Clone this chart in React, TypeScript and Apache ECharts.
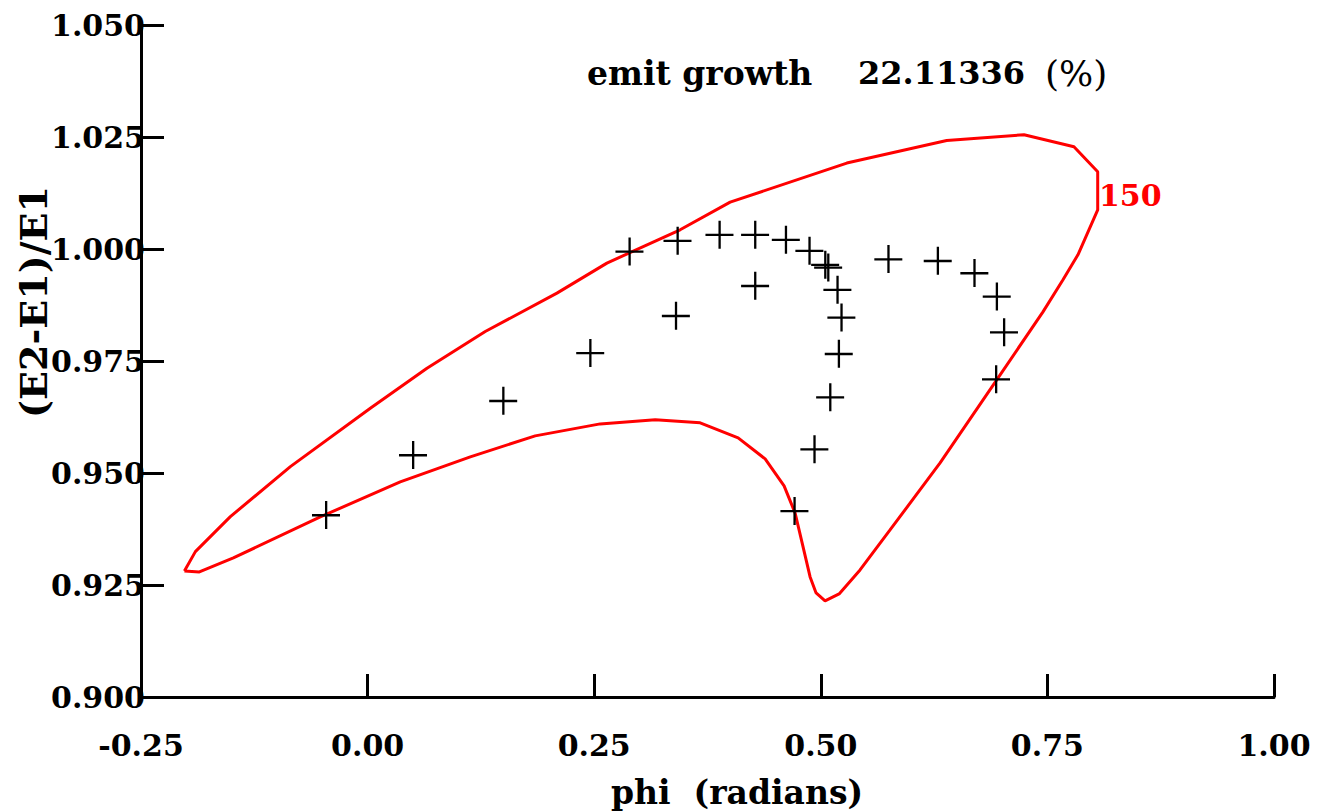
import React, { useEffect, useRef } from "react";
import * as echarts from "echarts";

const contourX = [-0.2021, -0.19, -0.1514, -0.0852, 0.003, 0.0655, 0.1298, 0.2089, 0.264, 0.3448, 0.4, 0.5287, 0.6389, 0.7242, 0.7793, 0.8055, 0.8055, 0.7837, 0.7672, 0.7451, 0.6941, 0.6316, 0.5764, 0.5433, 0.5202, 0.5047, 0.4948, 0.4882, 0.4794, 0.4716, 0.4595, 0.4386, 0.4088, 0.3669, 0.3173, 0.2566, 0.1849, 0.1133, 0.036, -0.0522, -0.1481, -0.1856, -0.2021];
const contourY = [0.92814, 0.93245, 0.94026, 0.95143, 0.96447, 0.9734, 0.98158, 0.99015, 0.99685, 1.00429, 1.01045, 1.01918, 1.02423, 1.0255, 1.02282, 1.01724, 1.00875, 0.9987, 0.99312, 0.98597, 0.97079, 0.95226, 0.93729, 0.92836, 0.923, 0.92144, 0.92322, 0.9268, 0.93439, 0.94109, 0.94712, 0.95315, 0.95784, 0.96119, 0.96186, 0.96096, 0.95829, 0.9536, 0.94801, 0.9402, 0.93104, 0.92791, 0.92814];

const particleX = [-0.0459, 0.0501, 0.1496, 0.2456, 0.2889, 0.3401, 0.3419, 0.3882, 0.4275, 0.4275, 0.4614, 0.4874, 0.5048, 0.5081, 0.5183, 0.5227, 0.5198, 0.5103, 0.4929, 0.4709, 0.5745, 0.629, 0.6694, 0.6941, 0.7021, 0.6933];
const particleY = [0.9406, 0.954, 0.9661, 0.9768, 0.99944, 0.98508, 1.00183, 1.00317, 1.00317, 0.99178, 1.00205, 0.9996, 0.9965, 0.99586, 0.99089, 0.9847, 0.9766, 0.96693, 0.95531, 0.94154, 0.99774, 0.99736, 0.99462, 0.98939, 0.98144, 0.97095];

const xTicks = { min: -0.25, max: 1.0, step: 0.25 };
const yTicks = { min: 0.9, max: 1.05, step: 0.025 };

const titleText = "emit growth";
const growthValue = "22.11336";
const growthUnit = "(%)";
const contourLabel = "150";
const xName = "phi  (radians)";
const yName = "(E2-E1)/E1";

const FONT = "DejaVu Serif";

export default function App() {
  const ref = useRef<HTMLDivElement>(null);
  useEffect(() => {
    document.body.style.margin = "0";
    const chart = echarts.init(ref.current!, null, { renderer: "svg" });
    const contour = contourX.map((x, i) => [x, contourY[i]]);
    const particles = particleX.map((x, i) => [x, particleY[i]]);
    const labelStyle = { fontFamily: FONT, fontWeight: "bold" as const, fontSize: 30, color: "#000" };
    const t = (text: string, left: number, size: number, weight: string) => ({
      type: "text",
      x: left,
      y: 73,
      style: { text, fontFamily: FONT, fontWeight: weight, fontSize: size, fill: "#000", verticalAlign: "middle" },
    });
    chart.setOption({
      animation: false,
      backgroundColor: "#fff",
      grid: { left: 141, right: 51, top: 25, bottom: 115, containLabel: false },
      xAxis: {
        type: "value",
        min: xTicks.min,
        max: xTicks.max,
        interval: xTicks.step,
        axisLine: { show: true, onZero: false, lineStyle: { color: "#000", width: 3 } },
        axisTick: { show: true, inside: true, length: 23, lineStyle: { color: "#000", width: 3 } },
        axisLabel: { ...labelStyle, margin: 33, formatter: (v: number) => v.toFixed(2) },
        splitLine: { show: false },
      },
      yAxis: {
        type: "value",
        min: yTicks.min,
        max: yTicks.max,
        interval: yTicks.step,
        axisLine: { show: true, onZero: false, lineStyle: { color: "#000", width: 3 } },
        axisTick: { show: true, inside: true, length: 23, lineStyle: { color: "#000", width: 3 } },
        axisLabel: { ...labelStyle, margin: -4, formatter: (v: number) => v.toFixed(3) },
        splitLine: { show: false },
      },
      series: [
        {
          type: "line",
          data: contour,
          showSymbol: false,
          symbol: "none",
          smooth: false,
          lineStyle: { color: "#ff0000", width: 3 },
          z: 2,
        },
        {
          type: "scatter",
          data: particles,
          symbol: "path://M13,0 L15.3,0 L15.3,13 L28,13 L28,15.3 L15.3,15.3 L15.3,28 L13,28 L13,15.3 L0,15.3 L0,13 L13,13 Z",
          symbolSize: 28,
          itemStyle: { color: "#000", opacity: 1 },
          z: 3,
        },
      ],
      graphic: [
        t(titleText, 587, 33, "bold"),
        t(growthValue, 858, 32, "bold"),
        t(growthUnit, 1045, 36, "normal"),
        {
          type: "text",
          left: 1099,
          top: 180,
          style: { text: contourLabel, fontFamily: FONT, fontWeight: "bold", fontSize: 30, fill: "#ff0000" },
        },
        {
          type: "text",
          x: 737,
          y: 792,
          style: { text: xName, fontFamily: FONT, fontWeight: "bold", fontSize: 33, fill: "#000", align: "center", verticalAlign: "middle" },
        },
        {
          type: "text",
          x: 33,
          y: 302,
          rotation: Math.PI / 2,
          style: { text: yName, fontFamily: FONT, fontWeight: "bold", fontSize: 38, fill: "#000", align: "center", verticalAlign: "middle" },
        },
      ],
    });
    return () => chart.dispose();
  }, []);
  return <div ref={ref} style={{ width: 1325, height: 812 }} />;
}
